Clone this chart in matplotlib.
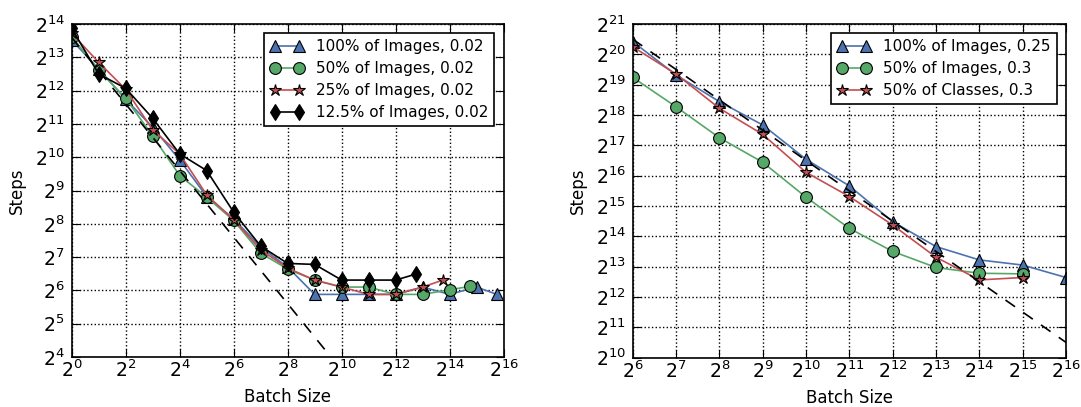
import numpy as np
import matplotlib
matplotlib.use('Agg')
import matplotlib.pyplot as plt
from matplotlib.ticker import FixedLocator, LogFormatterSciNotation, NullLocator

# left panel: batch size exponents (log2) and log2(steps)
mnist_x_100 = [0, 1, 2, 3, 4, 5, 6, 7, 8, 9, 10, 11, 12, 13, 14, 15, 15.75]
mnist_y_100 = [13.52, 12.65, 11.74, 10.9, 9.92, 8.82, 8.15, 7.3, 6.7, 5.88, 5.88,
               5.88, 5.88, 6.1, 5.88, 6.1, 5.88]
mnist_x_50 = [0, 1, 2, 3, 4, 5, 6, 7, 8, 9, 10, 11, 12, 13, 14, 14.75]
mnist_y_50 = [13.62, 12.62, 11.77, 10.64, 9.45, 8.8, 8.1, 7.12, 6.64, 6.31, 6.1,
              6.1, 5.88, 5.88, 6.02, 6.12]
mnist_x_25 = [0, 1, 2, 3, 4, 5, 6, 7, 8, 9, 10, 11, 12, 13, 13.75]
mnist_y_25 = [13.72, 12.85, 12.04, 10.82, 10.1, 8.87, 8.12, 7.22, 6.67, 6.31, 6.1,
              5.88, 5.88, 6.1, 6.31]
mnist_x_12 = [0, 1, 2, 3, 4, 5, 6, 7, 8, 9, 10, 11, 12, 12.75]
mnist_y_12 = [13.87, 12.5, 12.07, 11.17, 10.1, 9.6, 8.35, 7.33, 6.81, 6.78, 6.31,
              6.31, 6.31, 6.49]
mnist_ideal = 13.6  # log2 steps at batch size 1 for perfect scaling

# right panel
inet_x = [6, 7, 8, 9, 10, 11, 12, 13, 14, 15, 16]
inet_y_100 = [20.42, 19.32, 18.44, 17.67, 16.54, 15.66, 14.48, 13.66, 13.22, 13.05, 12.64]
inet_x_50 = [6, 7, 8, 9, 10, 11, 12, 13, 14, 15]
inet_y_50 = [19.24, 18.27, 17.25, 16.44, 15.29, 14.26, 13.5, 12.97, 12.78, 12.76]
inet_y_50c = [20.25, 19.35, 18.22, 17.36, 16.11, 15.31, 14.37, 13.31, 12.56, 12.64]
inet_ideal = 26.5

blue = '#4C72B0'
green = '#55A868'
red = '#C44E52'

plt.rcParams['font.family'] = 'DejaVu Sans'
plt.rcParams['xtick.direction'] = 'in'
plt.rcParams['ytick.direction'] = 'in'
plt.rcParams['xtick.top'] = True
plt.rcParams['ytick.right'] = True
plt.rcParams['xtick.major.size'] = 6
plt.rcParams['ytick.major.size'] = 6
plt.rcParams['ytick.alignment'] = 'center_baseline'

fig = plt.figure(figsize=(10.81, 4.07), dpi=100)
ax1 = fig.add_axes([0.0663, 0.1229, 0.3996, 0.818])
ax2 = fig.add_axes([0.5853, 0.1215, 0.4008, 0.8195])

mk = dict(markeredgecolor='k', markeredgewidth=0.8, linewidth=1.2)


def p2(v):
    return 2.0 ** np.asarray(v, dtype=float)


ax1.plot(p2(mnist_x_100), p2(mnist_y_100), '^-', color=blue, markersize=8.5,
         label='100% of Images, 0.02', **mk)
ax1.plot(p2(mnist_x_50), p2(mnist_y_50), 'o-', color=green, markersize=8.5,
         label='50% of Images, 0.02', **mk)
ax1.plot(p2(mnist_x_25), p2(mnist_y_25), '*-', color=red, markersize=9,
         label='25% of Images, 0.02', **mk)
ax1.plot(p2(mnist_x_12), p2(mnist_y_12), 'd-', color='k', markersize=8.5,
         label='12.5% of Images, 0.02', **mk)
xs = np.array([0, 16.0])
ax1.plot(p2(xs), p2(mnist_ideal - xs), 'k--', linewidth=1.2, dashes=(7, 6))

ax2.plot(p2(inet_x), p2(inet_y_100), '^-', color=blue, markersize=8.5,
         label='100% of Images, 0.25', **mk)
ax2.plot(p2(inet_x_50), p2(inet_y_50), 'o-', color=green, markersize=8.5,
         label='50% of Images, 0.3', **mk)
ax2.plot(p2(inet_x_50), p2(inet_y_50c), '*-', color=red, markersize=9,
         label='50% of Classes, 0.3', **mk)
xs = np.array([6, 16.0])
ax2.plot(p2(xs), p2(inet_ideal - xs), 'k--', linewidth=1.2, dashes=(7, 6))

for ax, xr, yr, xstep in [(ax1, (0, 16), (4, 14), 2), (ax2, (6, 16), (10, 21), 1)]:
    ax.set_xscale('log', base=2)
    ax.set_yscale('log', base=2)
    ax.set_xlim(2.0 ** xr[0], 2.0 ** xr[1])
    ax.set_ylim(2.0 ** yr[0], 2.0 ** yr[1])
    ax.xaxis.set_major_locator(FixedLocator(2.0 ** np.arange(xr[0], xr[1] + 1, xstep)))
    ax.yaxis.set_major_locator(FixedLocator(2.0 ** np.arange(yr[0], yr[1] + 1)))
    ax.xaxis.set_minor_locator(NullLocator())
    ax.yaxis.set_minor_locator(NullLocator())
    ax.xaxis.set_major_formatter(LogFormatterSciNotation(base=2))
    ax.yaxis.set_major_formatter(LogFormatterSciNotation(base=2))
    ax.tick_params(labelsize=13.5)
    ax.tick_params(axis='x', pad=2)
    ax.tick_params(axis='y', pad=5)
    ax.grid(True, linestyle=':', color='k', linewidth=1)
    ax.set_xlabel('Batch Size', fontsize=12, labelpad=5)
    ax.set_ylabel('Steps', fontsize=12, labelpad=6)
    for s in ax.spines.values():
        s.set_linewidth(1.2)
    leg = ax.legend(loc='upper right', numpoints=2, fontsize=11, fancybox=False,
                    framealpha=1, edgecolor='k', handlelength=2.2,
                    borderaxespad=0.6, handletextpad=0.8, labelspacing=0.45,
                    borderpad=0.4)
    leg.get_frame().set_linewidth(1.2)

fig.savefig('out.png')
